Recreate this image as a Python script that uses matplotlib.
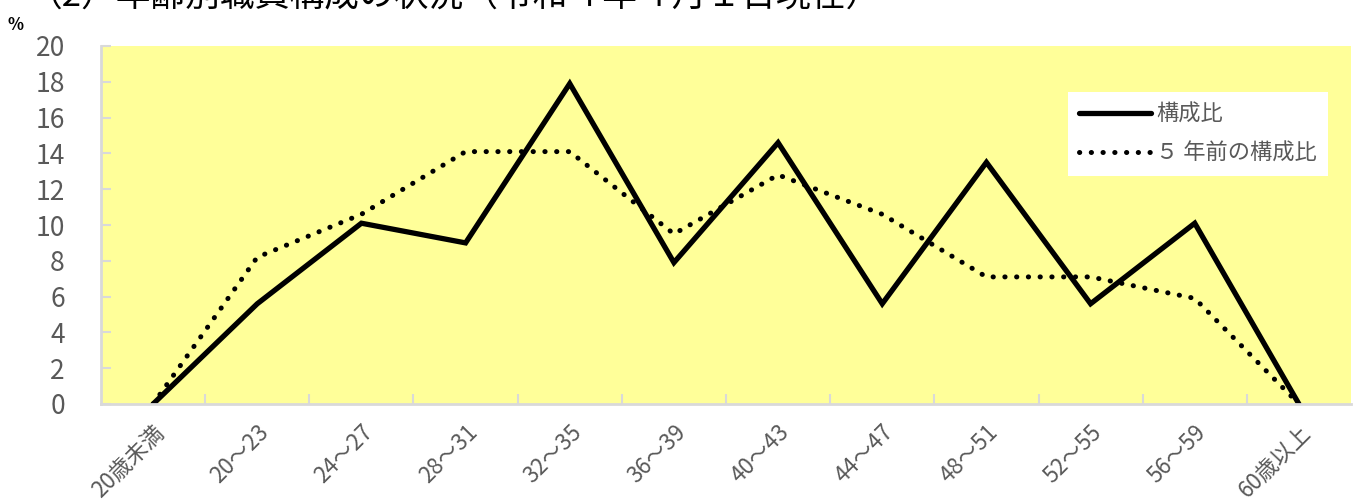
import matplotlib
matplotlib.use("Agg")
import matplotlib.pyplot as plt

plt.rcParams['font.family'] = ['Noto Sans CJK JP', 'DejaVu Sans']

# age groups
categories = ['20歳未満', '20～23', '24～27', '28～31', '32～35', '36～39',
              '40～43', '44～47', '48～51', '52～55', '56～59', '60歳以上']
# composition ratio (%) now and 5 years ago
ratio_now = [0, 5.6, 10.1, 9.0, 17.9, 7.9, 14.6, 5.6, 13.5, 5.6, 10.1, 0]
ratio_5y = [0, 8.2, 10.6, 14.1, 14.1, 9.5, 12.8, 10.6, 7.1, 7.1, 5.9, 0]
yticks = list(range(0, 21, 2))

gray = '#595959'

fig = plt.figure(figsize=(13.54, 5.0), dpi=100)
ax = fig.add_axes([101/1354, 1 - 404/500, 1250/1354, 358/500])
ax.set_facecolor('#ffff99')

x = list(range(len(categories)))
ax.plot(x, ratio_now, color='black', lw=3.8, solid_capstyle='round',
        solid_joinstyle='miter', label='構成比')
ax.plot(x, ratio_5y, color='black', lw=3.6, linestyle=(0, (0.05, 2.3)),
        dash_capstyle='round', label='５ 年前の構成比')

ax.set_xlim(-0.5, len(categories) - 0.5)
ax.set_ylim(0, 20)
ax.set_yticks(yticks)
ax.set_yticklabels([str(v) for v in yticks], fontsize=19, color=gray)
ax.tick_params(axis='y', direction='in', length=7, width=1.5, color='#d9d9d9', pad=26)

ax.set_xticks(x)
ax.set_xticklabels(categories, rotation=45, ha='right', rotation_mode='anchor',
                   fontsize=16, color=gray)
ax.tick_params(axis='x', length=0, pad=12)
# boundary ticks between categories
ax.set_xticks([i + 0.5 for i in x[:-1]], minor=True)
ax.tick_params(axis='x', which='minor', direction='in', length=7, width=1.5, color='#d9d9d9')

for s in ['top', 'right']:
    ax.spines[s].set_visible(False)
for s in ['left', 'bottom']:
    ax.spines[s].set_color('#d9d9d9')
    ax.spines[s].set_linewidth(2)

leg = ax.legend(loc='upper right', bbox_to_anchor=(0.9816, 0.8715),
                frameon=True, fancybox=False, fontsize=16, handlelength=3.2,
                handletextpad=0.25, labelspacing=0.7, borderpad=0.5,
                borderaxespad=0)
leg.get_frame().set_edgecolor('none')
leg.get_frame().set_facecolor('white')
leg.get_frame().set_alpha(1)
for t in leg.get_texts():
    t.set_color(gray)

fig.text(8/1354, 1 - 30/500, '%', fontsize=12, fontweight='bold', color='black')
fig.text(28/1354, 1 - 7/500, '（2）年齢別職員構成の状況（令和４年４月１日現在）',
         fontsize=25, color='black', va='baseline')

fig.savefig('out.png', dpi=100)
